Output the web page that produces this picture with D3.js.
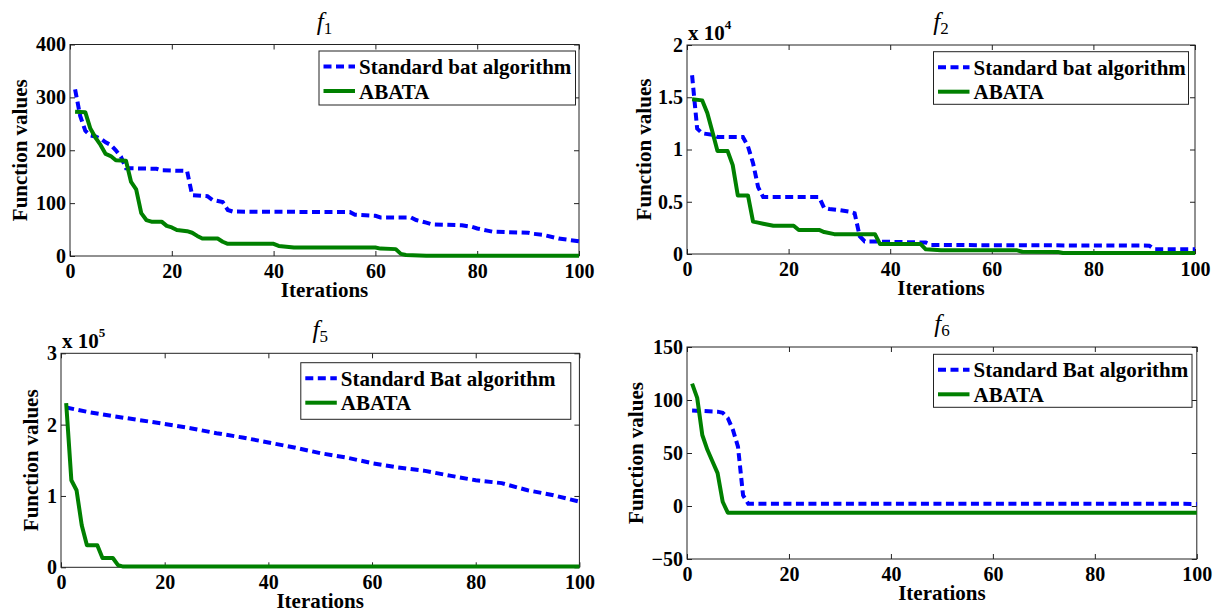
<!DOCTYPE html>
<html>
<head>
<meta charset="utf-8">
<script src="https://cdn.jsdelivr.net/npm/d3@7"></script>
<style>
body { margin: 0; background: #fff; }
text { font-family: "Liberation Serif", "Times New Roman", serif; fill: #000; }
.tick text { font-size: 20px; font-weight: bold; }
.lab { font-size: 21px; font-weight: bold; }
</style>
</head>
<body>
<div id="chart"></div>
<script>
// tick labels
const xTicks = [0, 20, 40, 60, 80, 100];
const f1Ticks = [0, 100, 200, 300, 400];
const f2Ticks = [0, 5000, 10000, 15000, 20000];
const f5Ticks = [0, 100000, 200000, 300000];
const f6Ticks = [-50, 0, 50, 100, 150];

const seriesNames = ['Standard bat algorithm', 'ABATA'];
const seriesNamesB = ['Standard Bat algorithm', 'ABATA'];

// [iteration, function value]
const f1Sba = [[1,315],[2,265],[3,237],[4,228],[5,226],[6,222],[7,215],[8,210],[9,200],[10,188],[11,166],
  [17,165],[18,162],[23,161],[24,115],[27,113],[28,106],[30,102],[31,87],[32,84],[55,83],[56,78],[60,76],
  [61,73],[67,73],[68,68],[70,63],[71,60],[77,58],[79,55],[80,52],[82,48],[83,46],[90,44],[91,42],[93,40],
  [96,33],[100,28]];
const f1Abata = [[1,273],[3,272],[4,241],[5,224],[6,210],[7,193],[8,189],[9,181],[11,180],[12,140],[13,126],
  [14,81],[15,68],[16,65],[18,65],[19,57],[20,54],[21,49],[23,47],[24,44],[25,38],[26,33],[29,33],[30,27],
  [31,23],[40,23],[41,19],[42,18],[44,16],[60,16],[61,14],[64,13],[65,4],[66,2],[70,0.6],[100,0.5]];

const f2Sba = [[1,17100],[2,12000],[3,11550],[5,11400],[6,11200],[11,11200],[12,10300],[13,8700],[14,6400],
  [15,5450],[26,5450],[27,4400],[28,4300],[30,4200],[32,4050],[33,3900],[34,1700],[35,1200],[36,1200],
  [47,1100],[48,860],[91,800],[92,450],[100,450]];
const f2Abata = [[1,14800],[3,14700],[4,13500],[5,11700],[6,9850],[8,9850],[9,8500],[10,5600],[12,5600],
  [13,3100],[14,3000],[15,2900],[17,2700],[21,2700],[22,2300],[26,2300],[27,2100],[29,1900],[37,1900],
  [38,950],[46,950],[47,450],[50,350],[65,350],[66,220],[73,200],[74,100],[100,100]];

const f5Sba = [[1,224000],[5,218000],[10,212000],[15,206500],[20,201000],[25,195000],[30,188000],
  [35,182000],[40,175000],[45,168000],[50,160000],[55,154000],[60,146000],[65,140000],[70,135500],
  [75,128500],[80,122000],[85,118000],[90,108000],[95,101000],[100,92000]];
const f5Abata = [[1,230000],[2,122000],[3,108000],[4,59000],[5,31000],[7,31000],[8,13000],[10,13000],
  [11,3000],[12,1000],[100,1000]];

const f6Sba = [[1,90],[6,89],[7,88],[8,83],[9,72],[10,56],[11,10],[12,2.2],[100,2]];
const f6Abata = [[1,115.5],[2,102],[3,67],[4,53],[5,42],[6,31],[7,4],[8,-6.3],[100,-6.3]];

const panels = [
  { sub: '1', left: 70, right: 579, top: 44.5, bottom: 256, yDomain: [0, 400], yTicks: f1Ticks, exp: 0,
    sba: f1Sba, abata: f1Abata, names: seriesNames, leg: [319, 51, 256.5, 54], ylabX: 26.5 },
  { sub: '2', left: 687, right: 1195, top: 45, bottom: 254, yDomain: [0, 20000], yTicks: f2Ticks, exp: 4,
    sba: f2Sba, abata: f2Abata, names: seriesNames, leg: [933.5, 51.7, 255, 52.6], ylabX: 651 },
  { sub: '5', left: 61, right: 579.4, top: 353.3, bottom: 567.3, yDomain: [0, 300000], yTicks: f5Ticks, exp: 5,
    sba: f5Sba, abata: f5Abata, names: seriesNamesB, leg: [300.8, 362.7, 270, 56.6], ylabX: 38 },
  { sub: '6', left: 687, right: 1196.8, top: 347, bottom: 559, yDomain: [-50, 150], yTicks: f6Ticks, exp: 0,
    sba: f6Sba, abata: f6Abata, names: seriesNamesB, leg: [933.5, 354.3, 258.5, 53], ylabX: 643 }
];

const blue = '#0000ff';
const green = '#008000';
const dash = '8,4.5';

const svg = d3.select('#chart').append('svg')
  .attr('width', 1216).attr('height', 612);
svg.append('rect').attr('width', 1216).attr('height', 612).attr('fill', '#fff');

panels.forEach(p => {
  const x = d3.scaleLinear().domain([0, 100]).range([p.left, p.right]);
  const y = d3.scaleLinear().domain(p.yDomain).range([p.bottom, p.top]);
  const g = svg.append('g');

  const fmt = d => {
    const v = p.exp ? d / Math.pow(10, p.exp) : d;
    return v < 0 ? '\u2212' + Math.abs(v) : String(v);
  };

  g.append('g').attr('transform', `translate(0,${p.bottom})`)
    .call(d3.axisBottom(x).tickValues(xTicks).tickSizeInner(-5).tickSizeOuter(0).tickPadding(8));
  g.append('g').attr('transform', `translate(${p.left},0)`)
    .call(d3.axisLeft(y).tickValues(p.yTicks).tickFormat(fmt).tickSizeInner(-5).tickSizeOuter(0).tickPadding(4));
  g.append('g').attr('transform', `translate(0,${p.top})`)
    .call(d3.axisTop(x).tickValues(xTicks).tickFormat('').tickSizeInner(-5).tickSizeOuter(0));
  g.append('g').attr('transform', `translate(${p.right},0)`)
    .call(d3.axisRight(y).tickValues(p.yTicks).tickFormat('').tickSizeInner(-5).tickSizeOuter(0));
  g.selectAll('.domain').remove();
  g.selectAll('.tick line').attr('stroke', '#222');

  g.append('rect')
    .attr('x', p.left).attr('y', p.top)
    .attr('width', p.right - p.left).attr('height', p.bottom - p.top)
    .attr('fill', 'none').attr('stroke', '#222').attr('stroke-width', 1);

  const line = d3.line().x(d => x(d[0])).y(d => y(d[1]));
  g.append('path').datum(p.sba).attr('d', line)
    .attr('fill', 'none').attr('stroke', blue).attr('stroke-width', 4).attr('stroke-dasharray', dash);
  g.append('path').datum(p.abata).attr('d', line)
    .attr('fill', 'none').attr('stroke', green).attr('stroke-width', 4).attr('stroke-linejoin', 'round');

  const cx = (p.left + p.right) / 2;
  // title f_n
  const t = g.append('text').attr('x', cx).attr('y', p.top - 15).attr('text-anchor', 'middle');
  t.append('tspan').attr('font-style', 'italic').attr('font-size', 25).text('f');
  t.append('tspan').attr('font-size', 17).attr('dy', 4).text(p.sub);

  // x label
  g.append('text').attr('class', 'lab').attr('x', cx).attr('y', p.bottom + 41)
    .attr('text-anchor', 'middle').text('Iterations');
  // y label
  g.append('text').attr('class', 'lab')
    .attr('transform', `translate(${p.ylabX},${(p.top + p.bottom) / 2}) rotate(-90)`)
    .attr('text-anchor', 'middle').text('Function values');

  // exponent
  if (p.exp) {
    const e = g.append('text').attr('class', 'lab').attr('x', p.left + 1).attr('y', p.top - 5.5);
    e.append('tspan').text('x 10');
    e.append('tspan').attr('font-size', 13).attr('dy', -11).text(p.exp);
  }

  // legend
  const [lx, ly, lw, lh] = p.leg;
  const lg = g.append('g').attr('transform', `translate(${lx},${ly})`);
  lg.append('rect').attr('width', lw).attr('height', lh)
    .attr('fill', '#fff').attr('stroke', '#222').attr('stroke-width', 1);
  const rows = [
    { name: p.names[0], color: blue, dash: dash, yy: 15.5 },
    { name: p.names[1], color: green, dash: null, yy: 40 }
  ];
  rows.forEach(r => {
    lg.append('line').attr('x1', 4.5).attr('x2', 36).attr('y1', r.yy).attr('y2', r.yy)
      .attr('stroke', r.color).attr('stroke-width', 4).attr('stroke-dasharray', r.dash);
    lg.append('text').attr('class', 'lab').attr('x', 40).attr('y', r.yy + 7.5).text(r.name);
  });
});
</script>
</body>
</html>
